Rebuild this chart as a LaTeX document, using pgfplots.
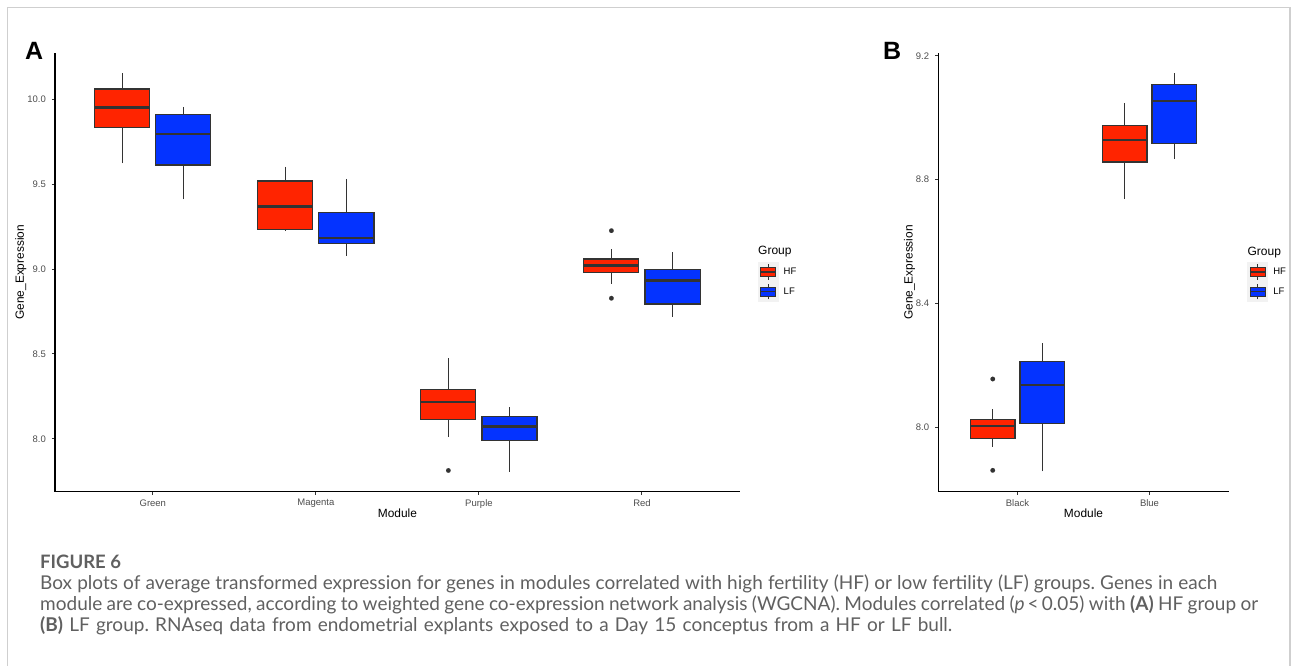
\documentclass[border=0pt]{standalone}
\usepackage{fontspec}
\setmainfont{Liberation Sans}
\newfontfamily\capfont{Lato}
\usepackage{pgfplots}
\pgfplotsset{compat=1.18}
\usepgfplotslibrary{statistics}

\definecolor{hfred}{RGB}{255,36,0}
\definecolor{lfblue}{RGB}{4,51,255}
\definecolor{gray20}{HTML}{333333}
\definecolor{gray30}{HTML}{4D4D4D}
\definecolor{keybg}{HTML}{F2F2F2}
\definecolor{framegray}{HTML}{CFCFCF}
\definecolor{capgray}{HTML}{606060}

\pgfplotsset{
  ggkey/.style={legend image code/.code={
      \fill[keybg] (0pt,-9.7pt) rectangle (20pt,9.7pt);
      \draw[gray20,line width=0.8pt] (10pt,-7.7pt) -- (10pt,7.7pt);
      \filldraw[fill=#1,draw=gray20,line width=0.8pt] (2.5pt,-4.3pt) rectangle (17.5pt,4.3pt);
      \draw[gray20,line width=1.6pt] (2.5pt,0pt) -- (17.5pt,0pt);}},
  ggpanel/.style={
    scale only axis, anchor=south west, clip=false,
    axis lines*=left,
    axis line style={black,line width=1.1pt},
    tick align=outside, major tick length=3pt,
    tick style={gray20,line width=1pt},
    xmin=0.4,
    /pgf/number format/assume math mode=true,
    ticklabel style={font=\fontsize{9.5}{11}\selectfont,text=gray30,inner sep=0pt},
    xticklabel style={anchor=north,yshift=-4.5pt},
    yticklabel style={anchor=east,xshift=-6pt},
    every axis x label/.style={at={(axis description cs:0.5,0)},anchor=base,yshift=-26.3pt,font=\fontsize{11.9}{13}\selectfont},
    every axis y label/.style={rotate=90,anchor=center,font=\fontsize{11.9}{13}\selectfont},
    xlabel=Module, ylabel=Gene\_Expression,
    legend style={anchor=north west,draw=none,fill=none,inner sep=0pt,outer sep=0pt,
      row sep=0pt,column sep=5.6pt,font=\fontsize{9.5}{11}\selectfont,
      nodes={inner sep=0pt,anchor=west}},
    legend cell align=left,
    boxplot/draw direction=y,
    boxplot/box extend=0.3375,
    boxplot/whisker extend=0,
    boxplot/every median/.style={line width=2.4pt},
  }
}

% colour, position, lower whisker, lower quartile, median, upper quartile, upper whisker, outliers
\newcommand{\ggbox}[8]{%
  \addplot[forget plot,fill=#1,draw=gray20,line width=1.1pt,
    mark=*,mark size=2.3pt,mark options={fill=gray20,draw=gray20,line width=0.1pt},
    boxplot prepared={draw position=#2,lower whisker=#3,lower quartile=#4,
      median=#5,upper quartile=#6,upper whisker=#7}] coordinates {#8};}

\begin{document}
\frenchspacing
\begin{tikzpicture}[x=1pt,y=1pt]
\useasboundingbox (0,0) rectangle (1293,666);
\draw[framegray,line width=1.2pt] (7.5,0) -- (7.5,658.5) -- (1290,658.5) -- (1290,0);

\node[anchor=base west,inner sep=0pt,font=\bfseries\fontsize{25}{25}\selectfont] at (25,606) {A};
\node[anchor=base west,inner sep=0pt,font=\bfseries\fontsize{25}{25}\selectfont] at (883,606) {B};

% panel A
\begin{axis}[ggpanel, at={(55pt,174.3pt)}, width=684.8pt, height=438.7pt,
  xmax=4.6, ymin=7.688, ymax=10.273,
  xtick={1,2,3,4}, xticklabels={Green,Magenta,Purple,Red},
  ytick={8,8.5,9,9.5,10}, yticklabels={8.0,8.5,9.0,9.5,10.0},
  ylabel style={at={(axis description cs:-0.0501,0.5)}},
  legend style={at={(rel axis cs:1.0262,0.5236)}}]
\ggbox{hfred}{0.8125}{9.623}{9.833}{9.951}{10.061}{10.153}{}
\ggbox{lfblue}{1.1875}{9.411}{9.613}{9.796}{9.909}{9.955}{}
\ggbox{hfred}{1.8125}{9.224}{9.232}{9.368}{9.519}{9.603}{}
\ggbox{lfblue}{2.1875}{9.079}{9.150}{9.183}{9.334}{9.531}{}
\ggbox{hfred}{2.8125}{8.009}{8.115}{8.216}{8.288}{8.475}{(0,7.813)}
\ggbox{lfblue}{3.1875}{7.807}{7.989}{8.072}{8.129}{8.186}{}
\ggbox{hfred}{3.8125}{8.912}{8.981}{9.022}{9.059}{9.117}{(0,9.226) (0,8.828)}
\ggbox{lfblue}{4.1875}{8.720}{8.794}{8.932}{8.997}{9.099}{}
\addlegendimage{ggkey=hfred}\addlegendentry{HF}
\addlegendimage{ggkey=lfblue}\addlegendentry{LF}
\node[anchor=base west,inner sep=0pt,font=\fontsize{12}{13}\selectfont] at (rel axis cs:1.0266,0.5396) {Group};
\end{axis}

% panel B
\begin{axis}[ggpanel, at={(938.3pt,174.3pt)}, width=290.4pt, height=438.4pt,
  xmax=2.6, ymin=7.792, ymax=9.208,
  xtick={1,2}, xticklabels={Black,Blue},
  ytick={8,8.4,8.8,9.2}, yticklabels={8.0,8.4,8.8,9.2},
  ylabel style={at={(axis description cs:-0.0992,0.5)}},
  legend style={at={(rel axis cs:1.0640,0.5240)}}]
\ggbox{hfred}{0.8125}{7.937}{7.964}{8.004}{8.025}{8.059}{(0,8.156) (0,7.861)}
\ggbox{lfblue}{1.1875}{7.858}{8.013}{8.137}{8.213}{8.272}{}
\ggbox{hfred}{1.8125}{8.737}{8.857}{8.928}{8.976}{9.048}{}
\ggbox{lfblue}{2.1875}{8.866}{8.917}{9.054}{9.108}{9.143}{}
\addlegendimage{ggkey=hfred}\addlegendentry{HF}
\addlegendimage{ggkey=lfblue}\addlegendentry{LF}
\node[anchor=base west,inner sep=0pt,font=\fontsize{12}{13}\selectfont] at (rel axis cs:1.0645,0.5396) {Group};
\end{axis}

% caption
\node[anchor=base west,inner sep=0pt,text=capgray,font=\capfont\bfseries\fontsize{18.5}{20}\selectfont] at (40,97) {FIGURE 6};
\node[anchor=base west,inner sep=0pt,text=capgray,font=\capfont\fontsize{19}{20}\selectfont] at (40,76)
  {\makebox[1177pt][s]{Box plots of average transformed expression for genes in modules correlated with high fertility (HF) or low fertility (LF) groups. Genes in each}};
\node[anchor=base west,inner sep=0pt,text=capgray,font=\capfont\fontsize{19}{20}\selectfont] at (40,55)
  {\makebox[1218pt][s]{module are co-expressed, according to weighted gene co-expression network analysis (WGCNA). Modules correlated (\textit{p}\,<\,0.05) with \textbf{(A)} HF group or}};
\node[anchor=base west,inner sep=0pt,text=capgray,font=\capfont\fontsize{19}{20}\selectfont] at (40,34)
  {\makebox[912pt][s]{\textbf{(B)} LF group. RNAseq data from endometrial explants exposed to a Day 15 conceptus from a HF or LF bull.}};
\end{tikzpicture}
\end{document}
